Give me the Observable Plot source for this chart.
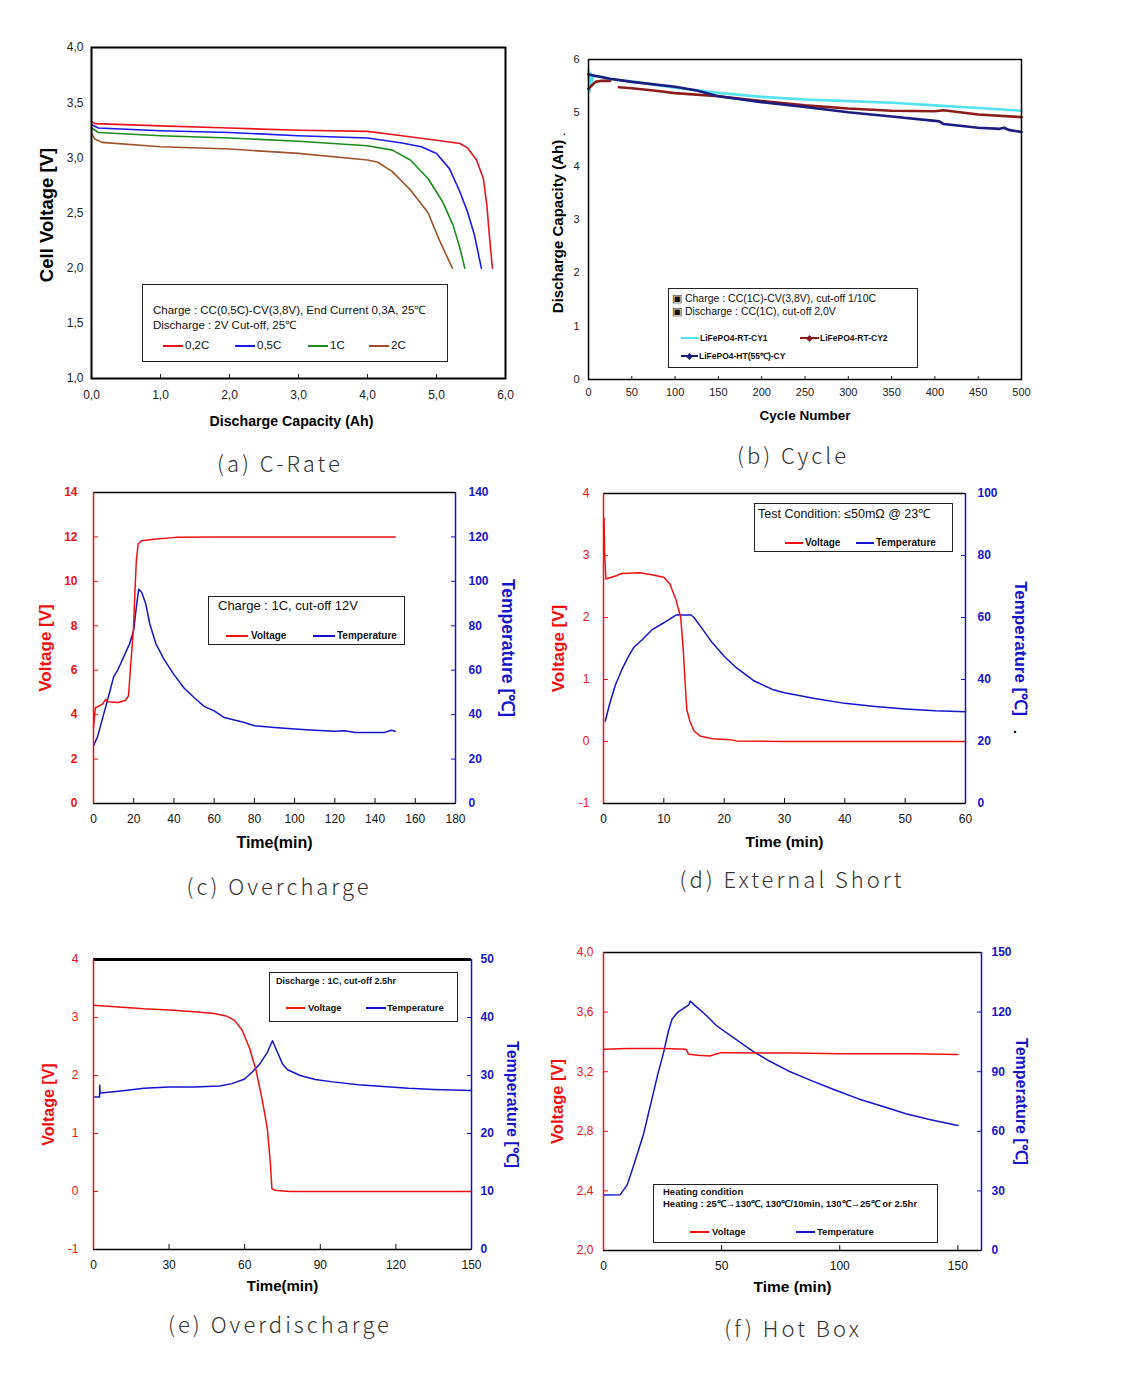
<!DOCTYPE html>
<html><head><meta charset="utf-8">
<script src="https://cdn.jsdelivr.net/npm/d3@7"></script>
<script src="https://cdn.jsdelivr.net/npm/@observablehq/plot@0.6"></script>
<style>
body{margin:0;background:#fff;}
#page{position:relative;width:1137px;height:1386px;background:#fff;overflow:hidden;font-family:"Liberation Sans",Arial,sans-serif;}
.legend{position:absolute;border:1px solid #222;background:#fff;box-sizing:border-box;}
.legend span{position:absolute;white-space:nowrap;}
.sw{position:absolute;height:2px;}
.caption{position:absolute;font-family:"Noto Sans CJK KR",sans-serif;font-weight:300;font-size:22px;letter-spacing:3px;color:#333;white-space:nowrap;transform:translate(-50%,-50%);}
</style></head>
<body><div id="page"></div>
<script>
// ---------- (a) C-Rate ----------
const aCap02 = [0,0.05,1,2,3,4,4.5,5.0,5.34,5.45,5.58,5.68,5.73,5.77,5.81];
const aV02   = [3.33,3.31,3.29,3.27,3.25,3.24,3.20,3.16,3.13,3.09,2.98,2.81,2.57,2.27,2.0];
const aCap05 = [0,0.1,1,2,3,4,4.5,4.78,5.0,5.19,5.34,5.45,5.55,5.65];
const aV05   = [3.30,3.27,3.245,3.23,3.20,3.18,3.135,3.10,3.04,2.90,2.69,2.51,2.30,2.0];
const aCap1  = [0,0.1,1,2,3,4,4.36,4.62,4.88,5.09,5.24,5.34,5.41];
const aV1    = [3.27,3.23,3.20,3.18,3.15,3.11,3.07,2.98,2.81,2.60,2.39,2.18,2.0];
const aCap2  = [0,0.05,0.15,1,2,3,4,4.15,4.36,4.62,4.88,5.03,5.23];
const aV2    = [3.22,3.17,3.14,3.10,3.08,3.04,2.98,2.96,2.875,2.71,2.50,2.27,2.0];
const aXTicks = [0,1,2,3,4,5,6];
const aYTicks = [1,1.5,2,2.5,3,3.5,4];
const aLegend = ["0,2C","0,5C","1C","2C"];

// ---------- (b) Cycle ----------
const bCyc1 = [0,1,2,3,5,10,25,50,100,150,200,250,300,350,400,450,500];
const bCap1 = [5.8,5.4,5.75,5.5,5.68,5.69,5.63,5.59,5.47,5.375,5.30,5.25,5.22,5.19,5.14,5.09,5.04];
const bCyc2 = [0,3,8,15,25,30,35,50,75,100,150,200,250,300,350,400,410,450,500];
const bCap2 = [5.45,5.5,5.58,5.6,5.6,NaN,5.48,5.46,5.42,5.37,5.31,5.22,5.14,5.08,5.04,5.03,5.05,4.97,4.92];
const bCycH = [0,25,50,100,125,150,200,250,300,350,400,405,410,450,475,480,485,500];
const bCapH = [5.72,5.64,5.58,5.49,5.42,5.31,5.20,5.11,5.01,4.93,4.85,4.84,4.79,4.72,4.70,4.72,4.68,4.64];
const bXTicks = [0,50,100,150,200,250,300,350,400,450,500];
const bYTicks = [0,1,2,3,4,5,6];

// ---------- (c) Overcharge ----------
const cTime = [0,0.9,4.4,6.2,7,12.4,16,17.4,18.3,19.9,20.7,21.3,22.2,23.9,30,40.8,60,80,100,150];
const cVolt = [3.4,4.3,4.47,4.7,4.58,4.55,4.65,4.85,5.97,7.93,9.73,10.93,11.68,11.83,11.9,11.98,12.0,12.0,12.0,12.0];
const cTempTime = [0,2,5,8,10,12,15,18,20,21.5,22.5,24,26,28,31,35,40,45,50,55,60,65,75,80,90,100,110,120,125,130,145,148,150];
const cTemp = [26,30,40,50,57,60,66,72,78,90,96.5,95,89.8,80.8,72,65,58,52,47.7,43.7,41.7,38.7,36.5,35,34.2,33.5,33,32.5,32.7,32,32,33,32.5];
const cXTicks = [0,20,40,60,80,100,120,140,160,180];
const cVTicks = [0,2,4,6,8,10,12,14];
const cTTicks = [0,20,40,60,80,100,120,140];

// ---------- (d) External Short ----------
const dTime = [0.1,0.2,0.4,2,3,6,8,10,11,12,12.8,13.2,13.5,13.8,14.3,15,16,18,21,22,30,60];
const dVolt = [3.6,3.0,2.62,2.67,2.71,2.72,2.69,2.65,2.54,2.29,2.0,1.51,1.0,0.52,0.33,0.17,0.09,0.045,0.03,0.01,0.0,0.0];
const dTempTime = [0.3,1,2,3,4,5,6.5,8,10,12,13,14.5,15,16.5,18,20,22,25,28,30,35,40,45,50,55,60];
const dTemp = [26.6,32,38.4,43,47,50.3,53,56,58.3,60.8,60.8,60.8,60,56,51.9,47.5,43.8,39.5,36.8,35.7,33.9,32.3,31.3,30.5,29.9,29.6];
const dXTicks = [0,10,20,30,40,50,60];
const dVTicks = [-1,0,1,2,3,4];
const dTTicks = [0,20,40,60,80,100];

// ---------- (e) Overdischarge ----------
const eTime = [0,10,20,30,40,48,53,56,59,62,64.5,67,69,70.2,70.8,72,75,78,150];
const eVolt = [3.21,3.18,3.15,3.13,3.10,3.07,3.02,2.95,2.78,2.46,2.09,1.57,1.08,0.48,0.05,0.02,0.01,0.0,0.0];
const eTempTime = [0.5,2.4,2.5,2.6,3,10,20,30,40,50,55,60,63,66,69,71,73,75,77,82,88,95,105,115,125,135,150];
const eTemp = [26.3,26.3,28.3,27,27,27.3,27.8,28,28,28.2,28.6,29.4,30.6,32,34,36,34,32,31,30,29.3,28.9,28.4,28.1,27.8,27.6,27.4];
const eXTicks = [0,30,60,90,120,150];
const eVTicks = [-1,0,1,2,3,4];
const eTTicks = [0,10,20,30,40,50];

// ---------- (f) Hot Box ----------
const fTime = [0,10,25,35,35.5,36,40,45,48,50,80,100,130,150];
const fVolt = [3.35,3.355,3.355,3.35,3.335,3.317,3.31,3.305,3.32,3.328,3.325,3.32,3.32,3.315];
const fTempTime = [0,7,10,13,17,20,23,25.5,27.5,29,31.2,34,36,36.8,39,43,48,55,63,70,78,88,98,108,118,128,138,150];
const fTemp = [27.9,28,32.9,43.7,58.8,73.8,88.8,100,110.5,116.4,119.7,122,123.5,125.5,123,118.9,113,107.2,100.5,95.5,90.5,85.5,80.8,76.3,72.6,68.8,65.9,62.9];
const fXTicks = [0,50,100,150];
const fVTicks = [2.0,2.4,2.8,3.2,3.6,4.0];
const fTTicks = [0,30,60,90,120,150];

// ---------- helpers ----------
const page = document.getElementById("page");
const FONT = '"Liberation Sans",Arial,sans-serif';
const RED = "#ee1111", BLUE = "#1414cc";
const comma1 = d => d.toFixed(1).replace(".", ",");

function place(el, x, y) {
  el.style.position = "absolute"; el.style.left = x + "px"; el.style.top = y + "px";
  page.appendChild(el);
}
function legend(x, y, w, h, items) {
  const d = document.createElement("div");
  d.className = "legend";
  d.style.left = x + "px"; d.style.top = y + "px"; d.style.width = w + "px"; d.style.height = h + "px";
  for (const it of items) {
    if (it.sw) {
      const s = document.createElement("div");
      s.className = "sw";
      s.style.left = it.x + "px"; s.style.top = (it.y - 1) + "px"; s.style.width = it.w + "px"; s.style.background = it.sw;
      d.appendChild(s);
      if (it.mark) {
        const m = document.createElement("div");
        m.style.cssText = `position:absolute;left:${it.x + it.w/2 - 2.5}px;top:${it.y - 2.5}px;width:5px;height:5px;background:${it.sw};transform:rotate(45deg);`;
        d.appendChild(m);
      }
    } else {
      const s = document.createElement("span");
      s.textContent = it.t;
      s.style.left = it.x + "px"; s.style.top = (it.y - it.fs * 0.6) + "px";
      s.style.fontSize = it.fs + "px"; s.style.lineHeight = (it.fs * 1.2) + "px";
      s.style.fontWeight = it.fw || "normal";
      s.style.color = "#111";
      d.appendChild(s);
    }
  }
  page.appendChild(d);
}
function caption(t, x, y) {
  const d = document.createElement("div");
  d.className = "caption"; d.textContent = t;
  d.style.left = x + "px"; d.style.top = y + "px";
  page.appendChild(d);
}
function titleText(t, opts) {
  return Plot.text([t], {text: d => d, fontWeight: "bold", fontSize: 16, fontFamily: FONT, textAnchor: "middle", lineAnchor: "middle", ...opts});
}

// ---------- (a) ----------
place(Plot.plot({
  width: 540, height: 420, marginLeft: 91, marginTop: 27, marginRight: 35, marginBottom: 62,
  style: {fontFamily: FONT, background: "transparent", overflow: "visible"},
  x: {domain: [0, 6]}, y: {domain: [1, 4]},
  marks: [
    Plot.axisX({ticks: aXTicks, tickFormat: comma1, tickSize: -4, tickPadding: 16, fontSize: 12, label: null, color: "#222"}),
    Plot.axisY({ticks: aYTicks, tickFormat: comma1, tickSize: 0, tickPadding: 8, fontSize: 12, label: null, color: "#222"}),
    Plot.line(aCap2, {x: aCap2, y: aV2, stroke: "#a0522d", strokeWidth: 1.6}),
    Plot.line(aCap1, {x: aCap1, y: aV1, stroke: "#1a8c1a", strokeWidth: 1.6}),
    Plot.line(aCap05, {x: aCap05, y: aV05, stroke: "#1a1aee", strokeWidth: 1.6}),
    Plot.line(aCap02, {x: aCap02, y: aV02, stroke: "#e8141c", strokeWidth: 1.6}),
    Plot.frame({stroke: "#000", strokeWidth: 2}),
    titleText("Cell Voltage [V]", {frameAnchor: "left", dx: -44, dy: 2, rotate: -90, fontSize: 18.5}),
    titleText("Discharge Capacity (Ah)", {frameAnchor: "bottom", dy: 43, dx: -7, fontSize: 14.2})
  ]
}), 0, 20);
legend(142, 284, 306, 78, [
  {t: "Charge : CC(0,5C)-CV(3,8V), End Current 0,3A, 25℃", x: 10, y: 26, fs: 11.5},
  {t: "Discharge :  2V Cut-off, 25℃", x: 10, y: 41, fs: 11.5},
  {sw: "#e8141c", x: 20, y: 61, w: 20}, {t: aLegend[0], x: 42, y: 61, fs: 11.5},
  {sw: "#1a1aee", x: 92, y: 61, w: 20}, {t: aLegend[1], x: 114, y: 61, fs: 11.5},
  {sw: "#1a8c1a", x: 165, y: 61, w: 20}, {t: aLegend[2], x: 187, y: 61, fs: 11.5},
  {sw: "#a0522d", x: 226, y: 61, w: 20}, {t: aLegend[3], x: 248, y: 61, fs: 11.5}
]);
caption("(a) C-Rate", 280, 462);

// ---------- (b) ----------
place(Plot.plot({
  width: 560, height: 420, marginLeft: 48, marginTop: 39, marginRight: 79, marginBottom: 61,
  style: {fontFamily: FONT, background: "transparent", overflow: "visible"},
  x: {domain: [0, 500]}, y: {domain: [0, 6]},
  marks: [
    Plot.axisX({ticks: bXTicks, tickFormat: d => d, tickSize: -3, tickPadding: 12, fontSize: 11, label: null, color: "#222"}),
    Plot.axisY({ticks: bYTicks, tickFormat: d => d, tickSize: 0, tickPadding: 9, fontSize: 11, label: null, color: "#222"}),
    Plot.line(bCyc1, {x: bCyc1, y: bCap1, stroke: "#55e2ee", strokeWidth: 2.6}),
    Plot.line(bCyc2, {x: bCyc2, y: bCap2, stroke: "#8b1c1c", strokeWidth: 2.6}),
    Plot.line(bCycH, {x: bCycH, y: bCapH, stroke: "#1c1c80", strokeWidth: 2.6}),
    Plot.frame({stroke: "#000", strokeWidth: 1.5}),
    titleText("Discharge Capacity (Ah)", {frameAnchor: "left", dx: -30, dy: 7, rotate: -90, fontSize: 15}),
    Plot.text(["."], {text: d => d, frameAnchor: "top-left", dx: -26, dy: 66, fontSize: 13}),
    titleText("Cycle Number", {frameAnchor: "bottom", dy: 36, fontSize: 13.5})
  ]
}), 540, 20);
legend(668, 288, 250, 80, [
  {t: "▣ Charge : CC(1C)-CV(3,8V), cut-off 1/10C", x: 3, y: 9, fs: 10.5},
  {t: "▣ Discharge : CC(1C), cut-off 2,0V", x: 3, y: 22, fs: 10.5},
  {sw: "#55e2ee", x: 12, y: 49, w: 18}, {t: "LiFePO4-RT-CY1", x: 31, y: 49, fs: 8.5, fw: "bold"},
  {sw: "#8b1c1c", x: 131, y: 49, w: 19, mark: true}, {t: "LiFePO4-RT-CY2", x: 151, y: 49, fs: 8.5, fw: "bold"},
  {sw: "#1c1c80", x: 12, y: 67, w: 17, mark: true}, {t: "LiFePO4-HT(55℃)-CY", x: 30, y: 67, fs: 8.5, fw: "bold"}
]);
caption("(b) Cycle", 793, 454);

// ---------- dual-axis panels ----------
function dual(cfg) {
  const {x, y, W, H, mL, mT, mR, mB, xDom, xTicks, vDom, vTicks, vFmt, tTicks, toV, fromV,
         time, volt, tTime, temp, lt, rt, xt, ldx, rdx, xdy, topW, vBold, lPad, rPad, lfs, rfs, xfs} = cfg;
  place(Plot.plot({
    width: W, height: H, marginLeft: mL, marginTop: mT, marginRight: mR, marginBottom: mB,
    style: {fontFamily: FONT, background: "transparent", overflow: "visible"},
    x: {domain: xDom}, y: {domain: vDom},
    marks: [
      Plot.axisX({ticks: xTicks, tickFormat: d => d, tickSize: -5, tickPadding: 16, fontSize: 12, label: null, color: "#111"}),
      Plot.axisY({ticks: vTicks, tickFormat: vFmt, tickSize: -5, tickPadding: lPad, fontSize: 12, fontWeight: vBold ? "bold" : "normal", label: null, color: RED}),
      Plot.axisY({anchor: "right", ticks: tTicks.map(toV), tickFormat: v => Math.round(fromV(v)), tickSize: -5, tickPadding: rPad, fontSize: 12, fontWeight: "bold", label: null, color: BLUE}),
      Plot.line(tTime, {x: tTime, y: temp.map(toV), stroke: BLUE, strokeWidth: 1.5}),
      Plot.line(time, {x: time, y: volt, stroke: RED, strokeWidth: 1.5}),
      Plot.ruleY([vDom[0]], {stroke: "#000", strokeWidth: 1.5}),
      Plot.ruleY([vDom[1]], {stroke: "#000", strokeWidth: topW}),
      Plot.ruleX([xDom[0]], {stroke: RED, strokeWidth: 1.5}),
      Plot.ruleX([xDom[1]], {stroke: BLUE, strokeWidth: 1.5}),
      titleText(lt, {frameAnchor: "left", dx: ldx, rotate: -90, fill: RED, fontSize: lfs}),
      titleText(rt, {frameAnchor: "right", dx: rdx, rotate: 90, fill: BLUE, fontSize: rfs}),
      titleText(xt, {frameAnchor: "bottom", dy: xdy, fontSize: xfs})
    ]
  }), x, y);
}

// (c)
dual({x: 0, y: 470, W: 540, H: 400, mL: 93, mT: 22, mR: 85, mB: 67,
  xDom: [0, 180], xTicks: cXTicks, vDom: [0, 14], vTicks: cVTicks, vFmt: d => d,
  tTicks: cTTicks, toV: t => t / 10, fromV: v => v * 10,
  time: cTime, volt: cVolt, tTime: cTempTime, temp: cTemp,
  lt: "Voltage [V]", rt: "Temperature [℃]", xt: "Time(min)", ldx: -48, rdx: 52, xdy: 39, topW: 1.5, vBold: true, lPad: 21, rPad: 18,
  lfs: 17, rfs: 17.5, xfs: 16});
legend(208, 596, 197, 49, [
  {t: "Charge : 1C, cut-off 12V", x: 9, y: 9, fs: 13},
  {sw: RED, x: 17, y: 39, w: 22}, {t: "Voltage", x: 42, y: 39, fs: 10, fw: "bold"},
  {sw: BLUE, x: 104, y: 39, w: 22}, {t: "Temperature", x: 128, y: 39, fs: 10, fw: "bold"}
]);
caption("(c) Overcharge", 279, 885);

// (d)
dual({x: 540, y: 470, W: 560, H: 400, mL: 63, mT: 23, mR: 135, mB: 67,
  xDom: [0, 60], xTicks: dXTicks, vDom: [-1, 4], vTicks: dVTicks, vFmt: d => d,
  tTicks: dTTicks, toV: t => -1 + t / 20, fromV: v => (v + 1) * 20,
  time: dTime, volt: dVolt, tTime: dTempTime, temp: dTemp,
  lt: "Voltage [V]", rt: "Temperature [℃]", xt: "Time (min)", ldx: -45, rdx: 55, xdy: 39, topW: 1.5, vBold: false, lPad: 19, rPad: 17,
  lfs: 17, rfs: 17, xfs: 15.5});
place((() => { const s = document.createElement("span"); s.textContent = "."; s.style.fontSize = "14px"; s.style.fontWeight = "bold"; return s; })(), 1013, 720);
legend(754, 503, 199, 49, [
  {t: "Test Condition: ≤50mΩ @ 23℃", x: 3, y: 10, fs: 12.5},
  {sw: RED, x: 30, y: 39, w: 18}, {t: "Voltage", x: 50, y: 39, fs: 10, fw: "bold"},
  {sw: BLUE, x: 101, y: 39, w: 18}, {t: "Temperature", x: 121, y: 39, fs: 10, fw: "bold"}
]);
caption("(d) External Short", 792, 878);

// (e)
dual({x: 0, y: 935, W: 540, H: 370, mL: 93, mT: 24, mR: 69, mB: 56,
  xDom: [0, 150], xTicks: eXTicks, vDom: [-1, 4], vTicks: eVTicks, vFmt: d => d,
  tTicks: eTTicks, toV: t => -1 + t / 10, fromV: v => (v + 1) * 10,
  time: eTime, volt: eVolt, tTime: eTempTime, temp: eTemp,
  lt: "Voltage [V]", rt: "Temperature [℃]", xt: "Time(min)", ldx: -45, rdx: 41, xdy: 37, topW: 3, vBold: false, lPad: 20, rPad: 14,
  lfs: 16, rfs: 16, xfs: 15});
legend(269, 972, 189, 50, [
  {t: "Discharge : 1C, cut-off 2.5hr", x: 6, y: 8, fs: 9, fw: "bold"},
  {sw: RED, x: 16, y: 35, w: 19}, {t: "Voltage", x: 38, y: 35, fs: 9.5, fw: "bold"},
  {sw: BLUE, x: 96, y: 35, w: 20}, {t: "Temperature", x: 117, y: 35, fs: 9.5, fw: "bold"}
]);
caption("(e) Overdischarge", 280, 1323);

// (f)
dual({x: 540, y: 935, W: 560, H: 370, mL: 63, mT: 17, mR: 119, mB: 55,
  xDom: [0, 160], xTicks: fXTicks, vDom: [2, 4], vTicks: fVTicks, vFmt: comma1,
  tTicks: fTTicks, toV: t => 2 + t / 75, fromV: v => (v - 2) * 75,
  time: fTime, volt: fVolt, tTime: fTempTime, temp: fTemp,
  lt: "Voltage [V]", rt: "Temperature [℃]", xt: "Time (min)", ldx: -46, rdx: 40, xdy: 37, topW: 1.5, vBold: false, lPad: 15, rPad: 15,
  lfs: 16.5, rfs: 16, xfs: 15.5});
legend(653, 1184, 285, 59, [
  {t: "Heating condition", x: 9, y: 7, fs: 9.5, fw: "bold"},
  {t: "Heating : 25℃→130℃, 130℃/10min, 130℃→25℃ or 2.5hr", x: 9, y: 19, fs: 9.5, fw: "bold"},
  {sw: RED, x: 36, y: 47, w: 19}, {t: "Voltage", x: 58, y: 47, fs: 9.5, fw: "bold"},
  {sw: BLUE, x: 142, y: 47, w: 19}, {t: "Temperature", x: 163, y: 47, fs: 9.5, fw: "bold"}
]);
caption("(f) Hot Box", 793, 1327);
</script></body></html>
